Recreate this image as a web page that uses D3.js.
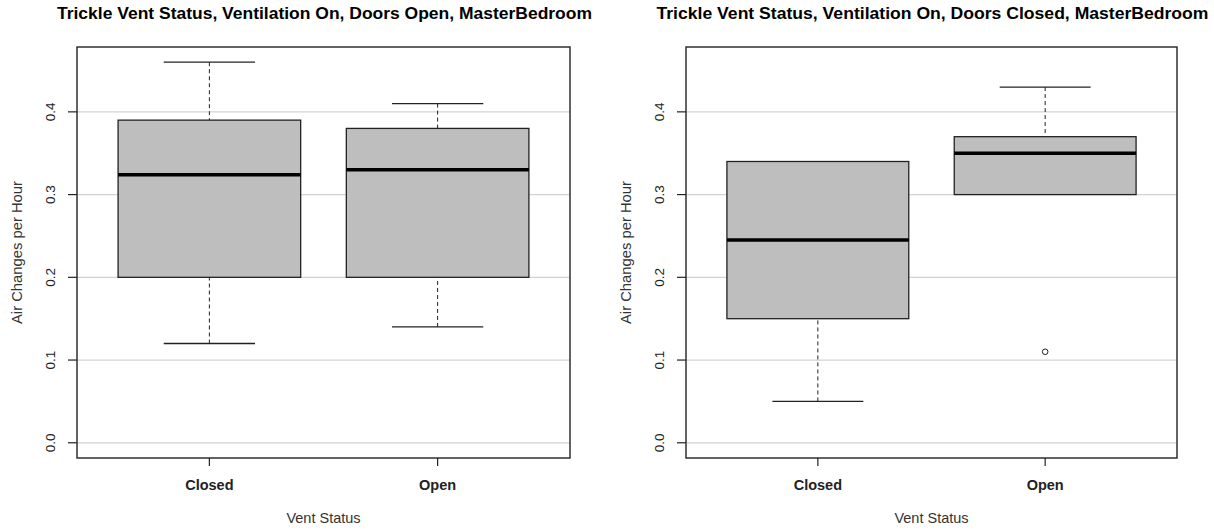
<!DOCTYPE html>
<html>
<head>
<meta charset="utf-8">
<script src="https://cdn.jsdelivr.net/npm/d3@7"></script>
<style>
  body { margin: 0; background: #fff; }
  svg text { font-family: "Liberation Sans", Arial, sans-serif; }
</style>
</head>
<body>
<div id="chart"></div>
<script>
// Data
const categories = ["Closed", "Open"];
const titles = [
    "Trickle Vent Status, Ventilation On, Doors Open, MasterBedroom",
    "Trickle Vent Status, Ventilation On, Doors Closed, MasterBedroom"
];
// [lower whisker, Q1, median, Q3, upper whisker]
const doorsOpenStats = [
    [0.12, 0.20, 0.324, 0.39, 0.46],
    [0.14, 0.20, 0.33, 0.38, 0.41]
];
const doorsClosedStats = [
    [0.05, 0.15, 0.245, 0.34, 0.34],
    [0.30, 0.30, 0.35, 0.37, 0.43]
];
const doorsOpenOutliers = [[], []];
const doorsClosedOutliers = [[], [0.11]];
const yTicks = [0.0, 0.1, 0.2, 0.3, 0.4];

const W = 1214, H = 531;
const svg = d3.select('#chart').append('svg')
    .attr('width', W)
    .attr('height', H);

function drawPanel(opts) {
    const { left, right, top, bottom, title, titleLen, stats, outliers } = opts;

    // R style: ylim c(0, 0.46) extended by 4%
    const ext = 0.46 * 0.04;
    const y = d3.scaleLinear().domain([-ext, 0.46 + ext]).range([bottom, top]);
    const x = d3.scaleLinear().domain([0.42, 2.58]).range([left, right]);
    const g = svg.append('g');

    // grid lines
    g.selectAll('.grid')
        .data(yTicks)
        .enter().append('line')
        .attr('x1', left).attr('x2', right)
        .attr('y1', d => y(d)).attr('y2', d => y(d))
        .attr('stroke', '#d3d3d3')
        .attr('stroke-width', 1.2);

    const boxW = 0.8;
    const stapleW = 0.4;

    stats.forEach((s, i) => {
        const cx = x(i + 1);
        const dash = '4,3';
        // whiskers
        if (s[0] < s[1]) {
            g.append('line')
                .attr('x1', cx).attr('x2', cx)
                .attr('y1', y(s[0])).attr('y2', y(s[1]))
                .attr('stroke', '#222').attr('stroke-dasharray', dash);
            g.append('line')
                .attr('x1', x(i + 1 - stapleW / 2)).attr('x2', x(i + 1 + stapleW / 2))
                .attr('y1', y(s[0])).attr('y2', y(s[0]))
                .attr('stroke', '#222').attr('stroke-width', 1.3);
        }
        if (s[4] > s[3]) {
            g.append('line')
                .attr('x1', cx).attr('x2', cx)
                .attr('y1', y(s[4])).attr('y2', y(s[3]))
                .attr('stroke', '#222').attr('stroke-dasharray', dash);
            g.append('line')
                .attr('x1', x(i + 1 - stapleW / 2)).attr('x2', x(i + 1 + stapleW / 2))
                .attr('y1', y(s[4])).attr('y2', y(s[4]))
                .attr('stroke', '#222').attr('stroke-width', 1.3);
        }
        // box
        g.append('rect')
            .attr('x', x(i + 1 - boxW / 2))
            .attr('width', x(i + 1 + boxW / 2) - x(i + 1 - boxW / 2))
            .attr('y', y(s[3]))
            .attr('height', y(s[1]) - y(s[3]))
            .attr('fill', '#bebebe')
            .attr('stroke', '#222')
            .attr('stroke-width', 1.3);
        // median
        g.append('line')
            .attr('x1', x(i + 1 - boxW / 2)).attr('x2', x(i + 1 + boxW / 2))
            .attr('y1', y(s[2])).attr('y2', y(s[2]))
            .attr('stroke', '#000').attr('stroke-width', 3.5);
        // outliers
        outliers[i].forEach(v => {
            g.append('circle')
                .attr('cx', cx).attr('cy', y(v)).attr('r', 2.8)
                .attr('fill', 'none').attr('stroke', '#222').attr('stroke-width', 1);
        });
    });

    // frame
    g.append('rect')
        .attr('x', left).attr('y', top)
        .attr('width', right - left).attr('height', bottom - top)
        .attr('fill', 'none').attr('stroke', '#222').attr('stroke-width', 1.4);

    // y axis ticks and rotated labels
    yTicks.forEach(t => {
        g.append('line')
            .attr('x1', left - 9).attr('x2', left)
            .attr('y1', y(t)).attr('y2', y(t))
            .attr('stroke', '#222').attr('stroke-width', 1.2);
        g.append('text')
            .attr('transform', `translate(${left - 22},${y(t)}) rotate(-90)`)
            .attr('text-anchor', 'middle')
            .attr('font-size', 13.5)
            .attr('fill', '#222')
            .text(t.toFixed(1));
    });

    // x axis ticks and labels
    categories.forEach((c, i) => {
        g.append('line')
            .attr('x1', x(i + 1)).attr('x2', x(i + 1))
            .attr('y1', bottom).attr('y2', bottom + 8)
            .attr('stroke', '#222').attr('stroke-width', 1.2);
        g.append('text')
            .attr('x', x(i + 1)).attr('y', bottom + 32)
            .attr('text-anchor', 'middle')
            .attr('font-size', 14.5)
            .attr('font-weight', 'bold')
            .attr('fill', '#222')
            .text(c);
    });

    // axis titles
    g.append('text')
        .attr('x', (left + right) / 2).attr('y', bottom + 65)
        .attr('text-anchor', 'middle')
        .attr('font-size', 14.5)
        .attr('fill', '#333')
        .text('Vent Status');
    g.append('text')
        .attr('transform', `translate(${left - 55},${(top + bottom) / 2}) rotate(-90)`)
        .attr('text-anchor', 'middle')
        .attr('font-size', 14.5)
        .attr('textLength', 143)
        .attr('lengthAdjust', 'spacingAndGlyphs')
        .attr('fill', '#333')
        .text('Air Changes per Hour');

    // main title
    g.append('text')
        .attr('x', (left + right) / 2 + 1).attr('y', 19)
        .attr('text-anchor', 'middle')
        .attr('font-size', 16.5)
        .attr('font-weight', 'bold')
        .attr('textLength', titleLen)
        .attr('lengthAdjust', 'spacingAndGlyphs')
        .attr('fill', '#000')
        .text(title);
}

drawPanel({ left: 77, right: 570, top: 47, bottom: 458, title: titles[0], titleLen: 535, stats: doorsOpenStats, outliers: doorsOpenOutliers });
drawPanel({ left: 686, right: 1177, top: 47, bottom: 458, title: titles[1], titleLen: 552, stats: doorsClosedStats, outliers: doorsClosedOutliers });
</script>
</body>
</html>
